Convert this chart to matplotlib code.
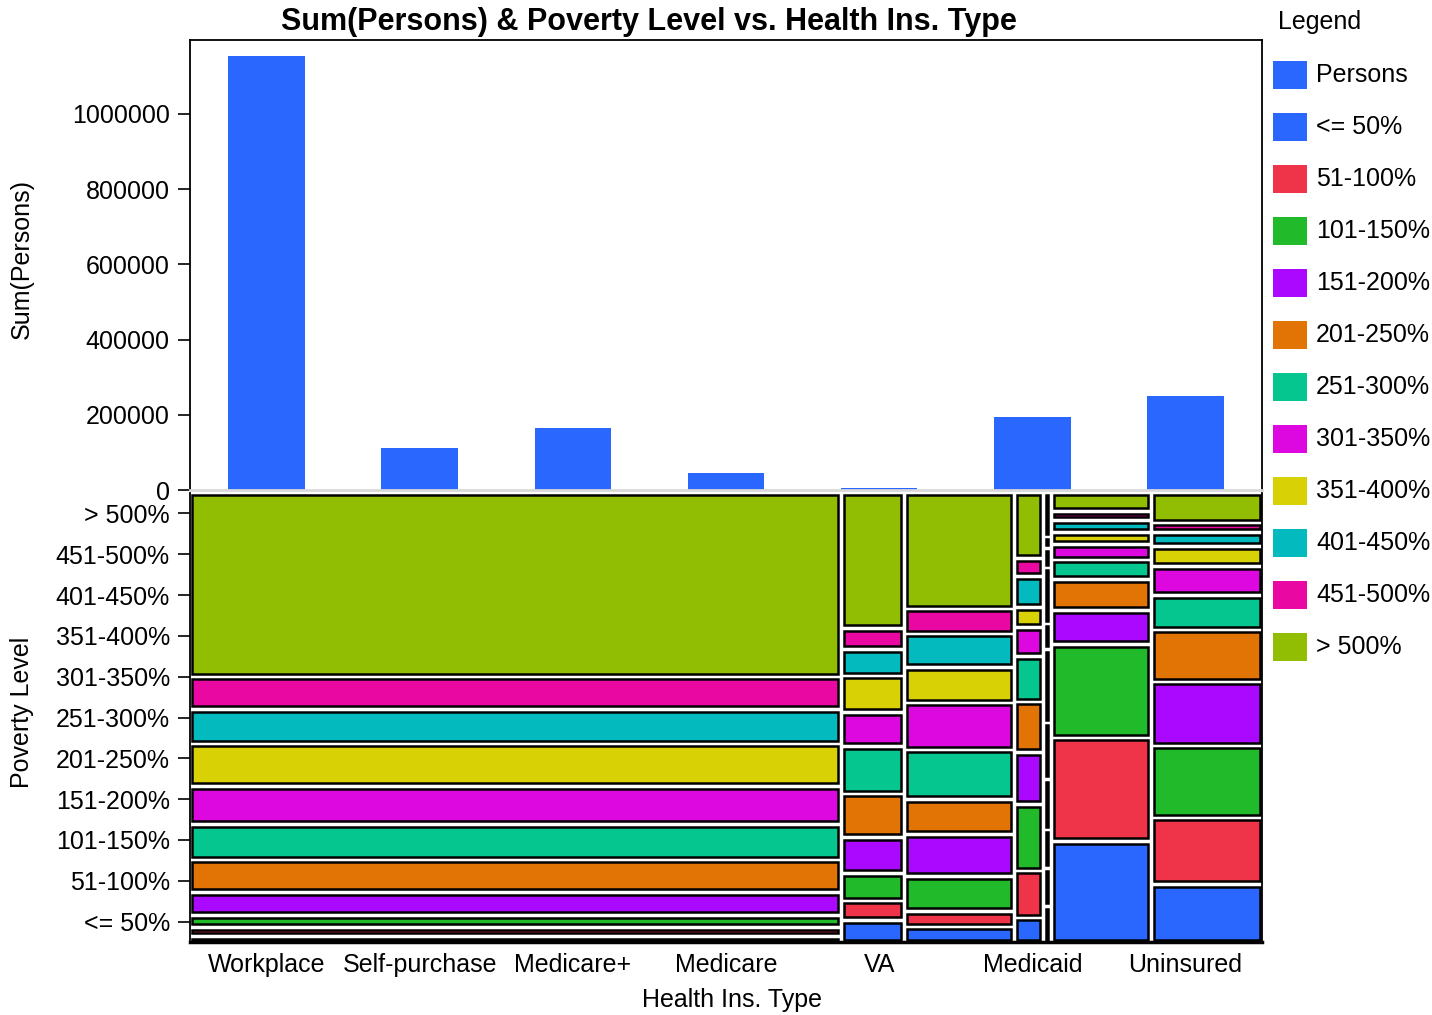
import matplotlib
matplotlib.use("Agg")
import matplotlib.pyplot as plt
from matplotlib.patches import Rectangle
import numpy as np

plt.rcParams['font.family'] = ['Liberation Sans', 'DejaVu Sans']

# categories
ins_types = ['Workplace', 'Self-purchase', 'Medicare+', 'Medicare', 'VA', 'Medicaid', 'Uninsured']
poverty_levels = ['<= 50%', '51-100%', '101-150%', '151-200%', '201-250%', '251-300%',
                  '301-350%', '351-400%', '401-450%', '451-500%', '> 500%']

# top bar chart: sum of persons
persons = [1154000, 112000, 165000, 45000, 5000, 194000, 250000]

# mosaic: column width share (%) per insurance type
mosaic_share = [62.6, 5.5, 10.1, 2.2, 0.2, 9.1, 10.3]

# mosaic: poverty level share (%) inside each column, from <= 50% up to > 500%
workplace = [0.4, 0.9, 1.7, 4.5, 7.0, 7.8, 8.6, 9.6, 7.6, 7.0, 46.8]
self_purchase = [4.4, 3.6, 5.7, 7.7, 9.8, 10.8, 7.2, 8.0, 5.4, 3.9, 33.5]
medicare_plus = [2.8, 2.5, 7.6, 9.3, 7.6, 11.3, 10.6, 7.8, 7.1, 5.0, 28.5]
medicare = [5.1, 10.7, 15.6, 12.0, 11.5, 10.2, 6.1, 3.6, 6.6, 3.1, 15.6]
va = [8.0, 8.3, 8.5, 11.5, 13.0, 17.5, 5.0, 13.0, 3.5, 1.5, 10.0]
medicaid = [24.9, 25.4, 22.8, 7.3, 6.5, 3.7, 2.6, 1.6, 1.6, 1.0, 3.4]
uninsured = [13.8, 15.6, 17.0, 15.1, 11.9, 7.4, 6.1, 3.7, 2.1, 1.0, 6.4]
columns = [workplace, self_purchase, medicare_plus, medicare, va, medicaid, uninsured]

bar_color = '#2967FF'
level_colors = ['#2967FF', '#EF3349', '#21BA2B', '#AA08FF', '#E27406', '#06C690',
                '#DC08DF', '#D8D106', '#03BABF', '#EA08A2', '#91BE03']

W, H = 1432, 1015
fig = plt.figure(figsize=(W / 100, H / 100), dpi=100)

def fx(px):
    return px / W

def fy(py):
    return 1 - py / H

FS = 18

# ---- top: bar chart ----
ax1 = fig.add_axes([fx(190), fy(490), fx(1262) - fx(190), fy(40) - fy(490)])
ax1.bar(np.arange(len(ins_types)), persons, width=0.5, color=bar_color)
ax1.set_xlim(-0.5, len(ins_types) - 0.5)
ax1.set_ylim(0, 1196800)
ax1.set_yticks(np.arange(0, 1000001, 200000))
ax1.set_yticklabels([str(v) for v in range(0, 1000001, 200000)])
ax1.tick_params(axis='x', bottom=False, labelbottom=False)
ax1.tick_params(axis='y', length=8.5, width=1.2, pad=6, labelsize=FS)
for s in ['top', 'left', 'right']:
    ax1.spines[s].set_color('black')
    ax1.spines[s].set_linewidth(1.3)
ax1.spines['bottom'].set_color('#d9d9d9')
ax1.spines['bottom'].set_linewidth(2)

# ---- bottom: mosaic ----
ax2 = fig.add_axes([fx(190), fy(942), fx(1262) - fx(190), fy(493) - fy(942)])
ax2.set_xlim(0, 1)
ax2.set_ylim(0, 1)
gap_x = 6.0 / 1072
gap_y = 5.6 / 449
widths = np.array(mosaic_share) / sum(mosaic_share) * (1 - gap_x * (len(ins_types) - 1) - 0.004)
x0 = 0.002
for i, col in enumerate(columns):
    heights = np.array(col) / sum(col) * (1 - gap_y * (len(poverty_levels) - 1) - 0.008)
    y0 = 0.004
    for j, h in enumerate(heights):
        ax2.add_patch(Rectangle((x0, y0), widths[i], h, facecolor=level_colors[j],
                                edgecolor='black', linewidth=1.8))
        y0 += h + gap_y
    x0 += widths[i] + gap_x

ax2.set_xticks((np.arange(len(ins_types)) + 0.5) / len(ins_types))
ax2.set_xticklabels(ins_types)
ax2.set_yticks((np.arange(len(poverty_levels)) + 0.5) / len(poverty_levels))
ax2.set_yticklabels(poverty_levels)
ax2.tick_params(axis='x', length=0, pad=8, labelsize=FS)
ax2.tick_params(axis='y', length=8.5, width=1.2, pad=6, labelsize=FS)
ax2.spines['top'].set_visible(False)
for s in ['left', 'right']:
    ax2.spines[s].set_color('black')
    ax2.spines[s].set_linewidth(1.3)
ax2.spines['bottom'].set_color('black')
ax2.spines['bottom'].set_linewidth(2.5)

# ---- labels ----
fig.text(fx(649), fy(22), 'Sum(Persons) & Poverty Level vs. Health Ins. Type',
         ha='center', va='center', fontsize=22, fontweight='bold')
fig.text(fx(22), fy(259), 'Sum(Persons)', rotation=90, ha='center', va='center', fontsize=FS)
fig.text(fx(22), fy(712), 'Poverty Level', rotation=90, ha='center', va='center', fontsize=FS)
fig.text(fx(732), fy(1000), 'Health Ins. Type', ha='center', va='center', fontsize=FS)

# ---- legend ----
fig.text(fx(1278), fy(22), 'Legend', ha='left', va='center', fontsize=FS)
legend_labels = ['Persons'] + poverty_levels
legend_colors = [bar_color] + level_colors
for k, (lab, c) in enumerate(zip(legend_labels, legend_colors)):
    yc = 75 + k * 52
    fig.patches.append(Rectangle((fx(1273), fy(yc + 14)), fx(34), 28 / H,
                                 transform=fig.transFigure, facecolor=c, edgecolor='none'))
    fig.text(fx(1316), fy(yc), lab, ha='left', va='center', fontsize=FS)

fig.savefig('out.png', dpi=100)
